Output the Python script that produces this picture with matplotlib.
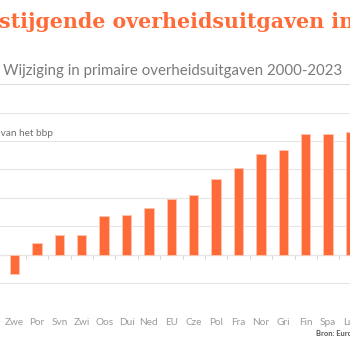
import matplotlib.pyplot as plt
import numpy as np

ORANJE = "#FF6B38"
RAND = "#FFC4AE"
GRIJS_LIJN = "#E6E6E6"

landen = ["Zwe", "Por", "Svn", "Zwi", "Oos", "Dui", "Ned", "EU", "Cze",
          "Pol", "Fra", "Nor", "Gri", "Fin", "Spa", "Lux"]
wijziging = [-1.4, 0.8, 1.35, 1.35, 2.7, 2.8, 3.3, 3.9, 4.2,
             5.3, 6.1, 7.1, 7.4, 8.5, 8.5, 8.65]
y_ticks = [-4, -2, 0, 2, 4, 6, 8, 10]

W, H = 350, 350
fig = plt.figure(figsize=(3.5, 3.5), dpi=100)
fig.patch.set_facecolor("white")

# axes loopt links en rechts buiten beeld (uitsnede)
px_links, px_rechts = -40, 390
px_boven, px_onder = 112.7, 311.3
ax = fig.add_axes([px_links / W, 1 - px_onder / H,
                   (px_rechts - px_links) / W, (px_onder - px_boven) / H])

x = np.arange(len(landen))
ax.bar(x, wijziging, width=0.42, color=ORANJE, edgecolor=RAND,
       linewidth=0.7, zorder=3)

stap = 22.4
ax.set_xlim((px_links - 14.5) / stap, (px_rechts - 14.5) / stap)
ax.set_ylim(-4, 10)
ax.set_yticks(y_ticks)
ax.yaxis.grid(True, color=GRIJS_LIJN, linewidth=0.8, zorder=0)
ax.tick_params(axis="y", length=0, labelleft=False)
ax.set_xticks(x)
ax.set_xticklabels(landen, fontsize=7.2, color="#9A9A9A", family="Lato")
ax.tick_params(axis="x", length=0, pad=5)
for s in ax.spines.values():
    s.set_visible(False)

# streepjes op de nullijn tussen de categorieën
ax.axhline(0, color="#DADADA", linewidth=0.8, zorder=1)
ax.vlines(x[1:] - 0.5, -0.28, 0, color="#D5D5D5", linewidth=0.7, zorder=1)

# titel, ondertitel en bron
fig.text(-2 / W, 1 - 28 / H, "Sterk ", ha="right", va="baseline",
         fontsize=14.8, fontweight="bold", color=ORANJE,
         family="DejaVu Serif")
fig.text(-1 / W, 1 - 28 / H, "stijgende overheidsuitgaven in Europa",
         ha="left", va="baseline", fontsize=14.8, fontweight="bold",
         color=ORANJE, family="DejaVu Serif")
fig.text(3 / W, 1 - 75.5 / H,
         "Wijziging in primaire overheidsuitgaven 2000-2023",
         ha="left", va="baseline", fontsize=10.8, color="#7A7A7A",
         family="Lato")
fig.add_artist(plt.Line2D([0, 1], [1 - 84.3 / H, 1 - 84.3 / H],
                          color="#DDDDDD", linewidth=0.8,
                          transform=fig.transFigure))
fig.text(53 / W, 1 - 136 / H, "% van het bbp", ha="right", va="baseline",
         fontsize=7.2, color="#6E6E6E", family="Lato")
fig.text(316 / W, 1 - 333 / H, "Bron: Eurostat", ha="left", va="center",
         fontsize=5.4, color="#555555", fontweight="bold", family="Lato")

fig.savefig("out.png", dpi=100, facecolor="white")
